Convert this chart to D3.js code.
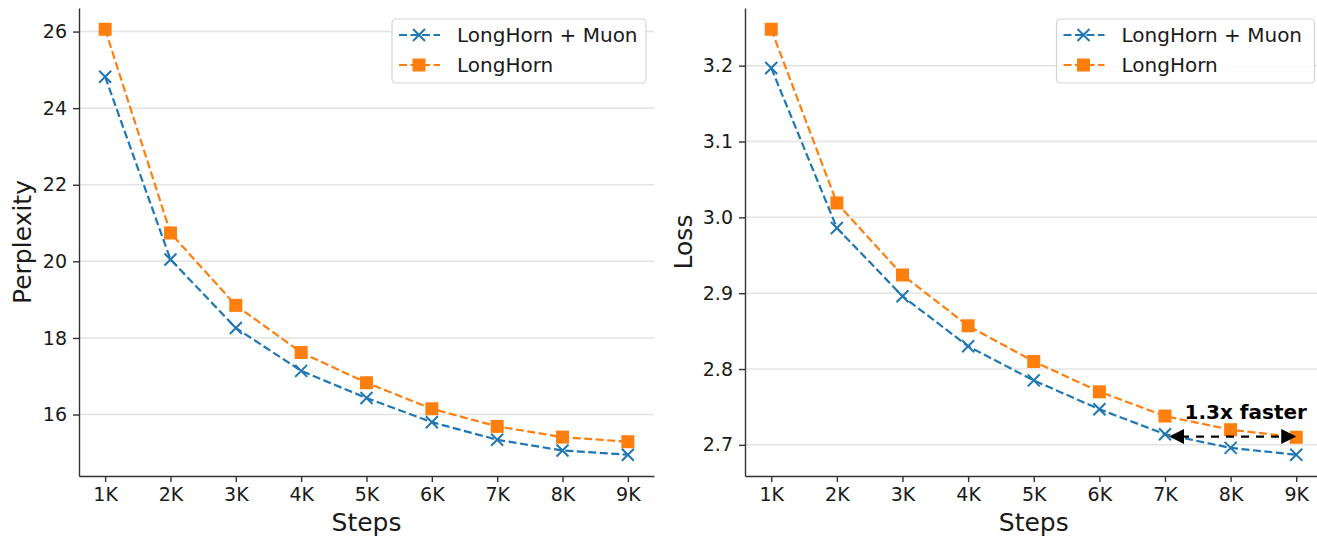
<!DOCTYPE html>
<html>
<head>
<meta charset="utf-8">
<script src="https://cdn.jsdelivr.net/npm/d3@7"></script>
<style>
  body { margin: 0; background: #fff; }
  svg { display: block; font-family: "DejaVu Sans", sans-serif; }
</style>
</head>
<body>
<div id="chart"></div>
<script>
// steps in thousands
var steps = [1, 2, 3, 4, 5, 6, 7, 8, 9];
var stepLabels = ["1K","2K","3K","4K","5K","6K","7K","8K","9K"];

// perplexity (left panel)
var pplMuon = [24.82, 20.05, 18.26, 17.14, 16.43, 15.80, 15.34, 15.06, 14.95];
var pplBase = [26.06, 20.74, 18.85, 17.62, 16.83, 16.15, 15.69, 15.41, 15.29];
var pplTicks = [16, 18, 20, 22, 24, 26];

// loss (right panel)
var lossMuon = [3.197, 2.986, 2.896, 2.830, 2.785, 2.747, 2.714, 2.696, 2.687];
var lossBase = [3.248, 3.019, 2.924, 2.857, 2.810, 2.770, 2.738, 2.720, 2.710];
var lossTicks = [2.7, 2.8, 2.9, 3.0, 3.1, 3.2];

var seriesNames = ["LongHorn + Muon", "LongHorn"];
var blue = "#1f77b4", orange = "#ff7f0e";
var dash = "8,3.5";

var W = 1317, H = 539;
var svg = d3.select("#chart").append("svg")
    .attr("width", W).attr("height", H);

// x marker path
function xPath(s) { return `M${-s},${-s}L${s},${s}M${-s},${s}L${s},${-s}`; }

function drawPanel(opt) {
  var g = svg.append("g");

  // matplotlib style 5% margins
  var all = opt.a.concat(opt.b);
  var lo = d3.min(all), hi = d3.max(all), pad = (hi - lo) * 0.05;
  var x = d3.scaleLinear().domain([0.6, 9.4]).range([opt.left, opt.right]);
  var y = d3.scaleLinear().domain([lo - pad, hi + pad]).range([476, 8]);

  // grid
  g.append("g").selectAll("line").data(opt.ticks).join("line")
    .attr("x1", opt.left).attr("x2", opt.right)
    .attr("y1", d => y(d)).attr("y2", d => y(d))
    .attr("stroke", "#e3e3e3").attr("stroke-width", 1.5);

  // axes
  var xAxis = g.append("g")
    .attr("transform", "translate(0,476)")
    .call(d3.axisBottom(x).tickValues(steps).tickFormat((d, i) => stepLabels[i]).tickSize(6).tickPadding(6).tickSizeOuter(0));
  var yAxis = g.append("g")
    .attr("transform", `translate(${opt.left},0)`)
    .call(d3.axisLeft(y).tickValues(opt.ticks).tickFormat(opt.fmt).tickSize(6).tickPadding(6).tickSizeOuter(0));
  [xAxis, yAxis].forEach(function(a) {
    a.select(".domain").attr("stroke", "#333").attr("stroke-width", 1.4);
    a.selectAll(".tick line").attr("stroke", "#333").attr("stroke-width", 1.4);
    a.selectAll(".tick text").attr("font-size", 19).attr("fill", "#1a1a1a")
      .attr("font-family", "DejaVu Sans, sans-serif");
  });

  // axis labels
  g.append("text")
    .attr("x", (opt.left + opt.right) / 2)
    .attr("y", 531).attr("text-anchor", "middle")
    .attr("font-size", 25).attr("fill", "#1a1a1a")
    .text("Steps");
  g.append("text")
    .attr("transform", `translate(${opt.labelX},242) rotate(-90)`)
    .attr("text-anchor", "middle")
    .attr("font-size", 25).attr("fill", "#1a1a1a")
    .text(opt.yLabel);

  var line = d3.line().x((d, i) => x(steps[i])).y(d => y(d));

  // LongHorn (orange squares)
  g.append("path").datum(opt.b).attr("d", line)
    .attr("fill", "none").attr("stroke", orange).attr("stroke-width", 2.2)
    .attr("stroke-dasharray", dash);
  g.append("g").selectAll("rect").data(opt.b).join("rect")
    .attr("x", (d, i) => x(steps[i]) - 6.5).attr("y", d => y(d) - 6.5)
    .attr("width", 13).attr("height", 13).attr("fill", orange);

  // LongHorn + Muon (blue x)
  g.append("path").datum(opt.a).attr("d", line)
    .attr("fill", "none").attr("stroke", blue).attr("stroke-width", 2.2)
    .attr("stroke-dasharray", dash);
  g.append("g").selectAll("path").data(opt.a).join("path")
    .attr("transform", (d, i) => `translate(${x(steps[i])},${y(d)})`)
    .attr("d", xPath(6)).attr("stroke", blue).attr("stroke-width", 2).attr("fill", "none");

  // legend
  var lx = opt.right - 8 - opt.legendW, ly = 19;
  var lg = g.append("g").attr("transform", `translate(${lx},${ly})`);
  lg.append("rect").attr("width", opt.legendW).attr("height", 64).attr("rx", 4)
    .attr("fill", "#fff").attr("fill-opacity", 0.85)
    .attr("stroke", "#d5d5d5").attr("stroke-width", 1.2);
  var rows = [{c: blue, m: "x"}, {c: orange, m: "s"}];
  rows.forEach(function(r, i) {
    var cy = 16 + i * 30;
    lg.append("line").attr("x1", 7).attr("x2", 48).attr("y1", cy).attr("y2", cy)
      .attr("stroke", r.c).attr("stroke-width", 2.2).attr("stroke-dasharray", dash);
    if (r.m == "x") {
      lg.append("path").attr("transform", `translate(27,${cy})`).attr("d", xPath(6))
        .attr("stroke", r.c).attr("stroke-width", 2);
    } else {
      lg.append("rect").attr("x", 20.5).attr("y", cy - 6.5).attr("width", 13).attr("height", 13).attr("fill", r.c);
    }
    lg.append("text").attr("x", 65).attr("y", cy).attr("dy", "0.36em")
      .attr("font-size", 20).attr("fill", "#1a1a1a").text(seriesNames[i]);
  });

  return {x: x, y: y, g: g};
}

drawPanel({left: 79, right: 654, a: pplMuon, b: pplBase, ticks: pplTicks,
  fmt: d3.format("d"), yLabel: "Perplexity", labelX: 31, legendW: 254});

var p2 = drawPanel({left: 745, right: 1322.5, a: lossMuon, b: lossBase, ticks: lossTicks,
  fmt: d3.format(".1f"), yLabel: "Loss", labelX: 692, legendW: 258});

// annotation: 1.3x faster between 7K and 9K
var ay = p2.y(2.711), ax1 = p2.x(7) + 4, ax2 = p2.x(9);
p2.g.append("line").attr("x1", ax1 + 12).attr("x2", ax2 - 12).attr("y1", ay).attr("y2", ay)
  .attr("stroke", "#000").attr("stroke-width", 2.2).attr("stroke-dasharray", "8,7");
p2.g.append("path").attr("d", `M${ax1},${ay}L${ax1 + 15},${ay - 7.5}L${ax1 + 15},${ay + 7.5}Z`).attr("fill", "#000");
p2.g.append("path").attr("d", `M${ax2},${ay}L${ax2 - 15},${ay - 7.5}L${ax2 - 15},${ay + 7.5}Z`).attr("fill", "#000");
p2.g.append("text").attr("x", p2.x(8.23)).attr("y", p2.y(2.743)).attr("dy", "0.36em")
  .attr("text-anchor", "middle").attr("font-size", 20).attr("font-weight", "bold")
  .attr("fill", "#000").text("1.3x faster");
</script>
</body>
</html>
